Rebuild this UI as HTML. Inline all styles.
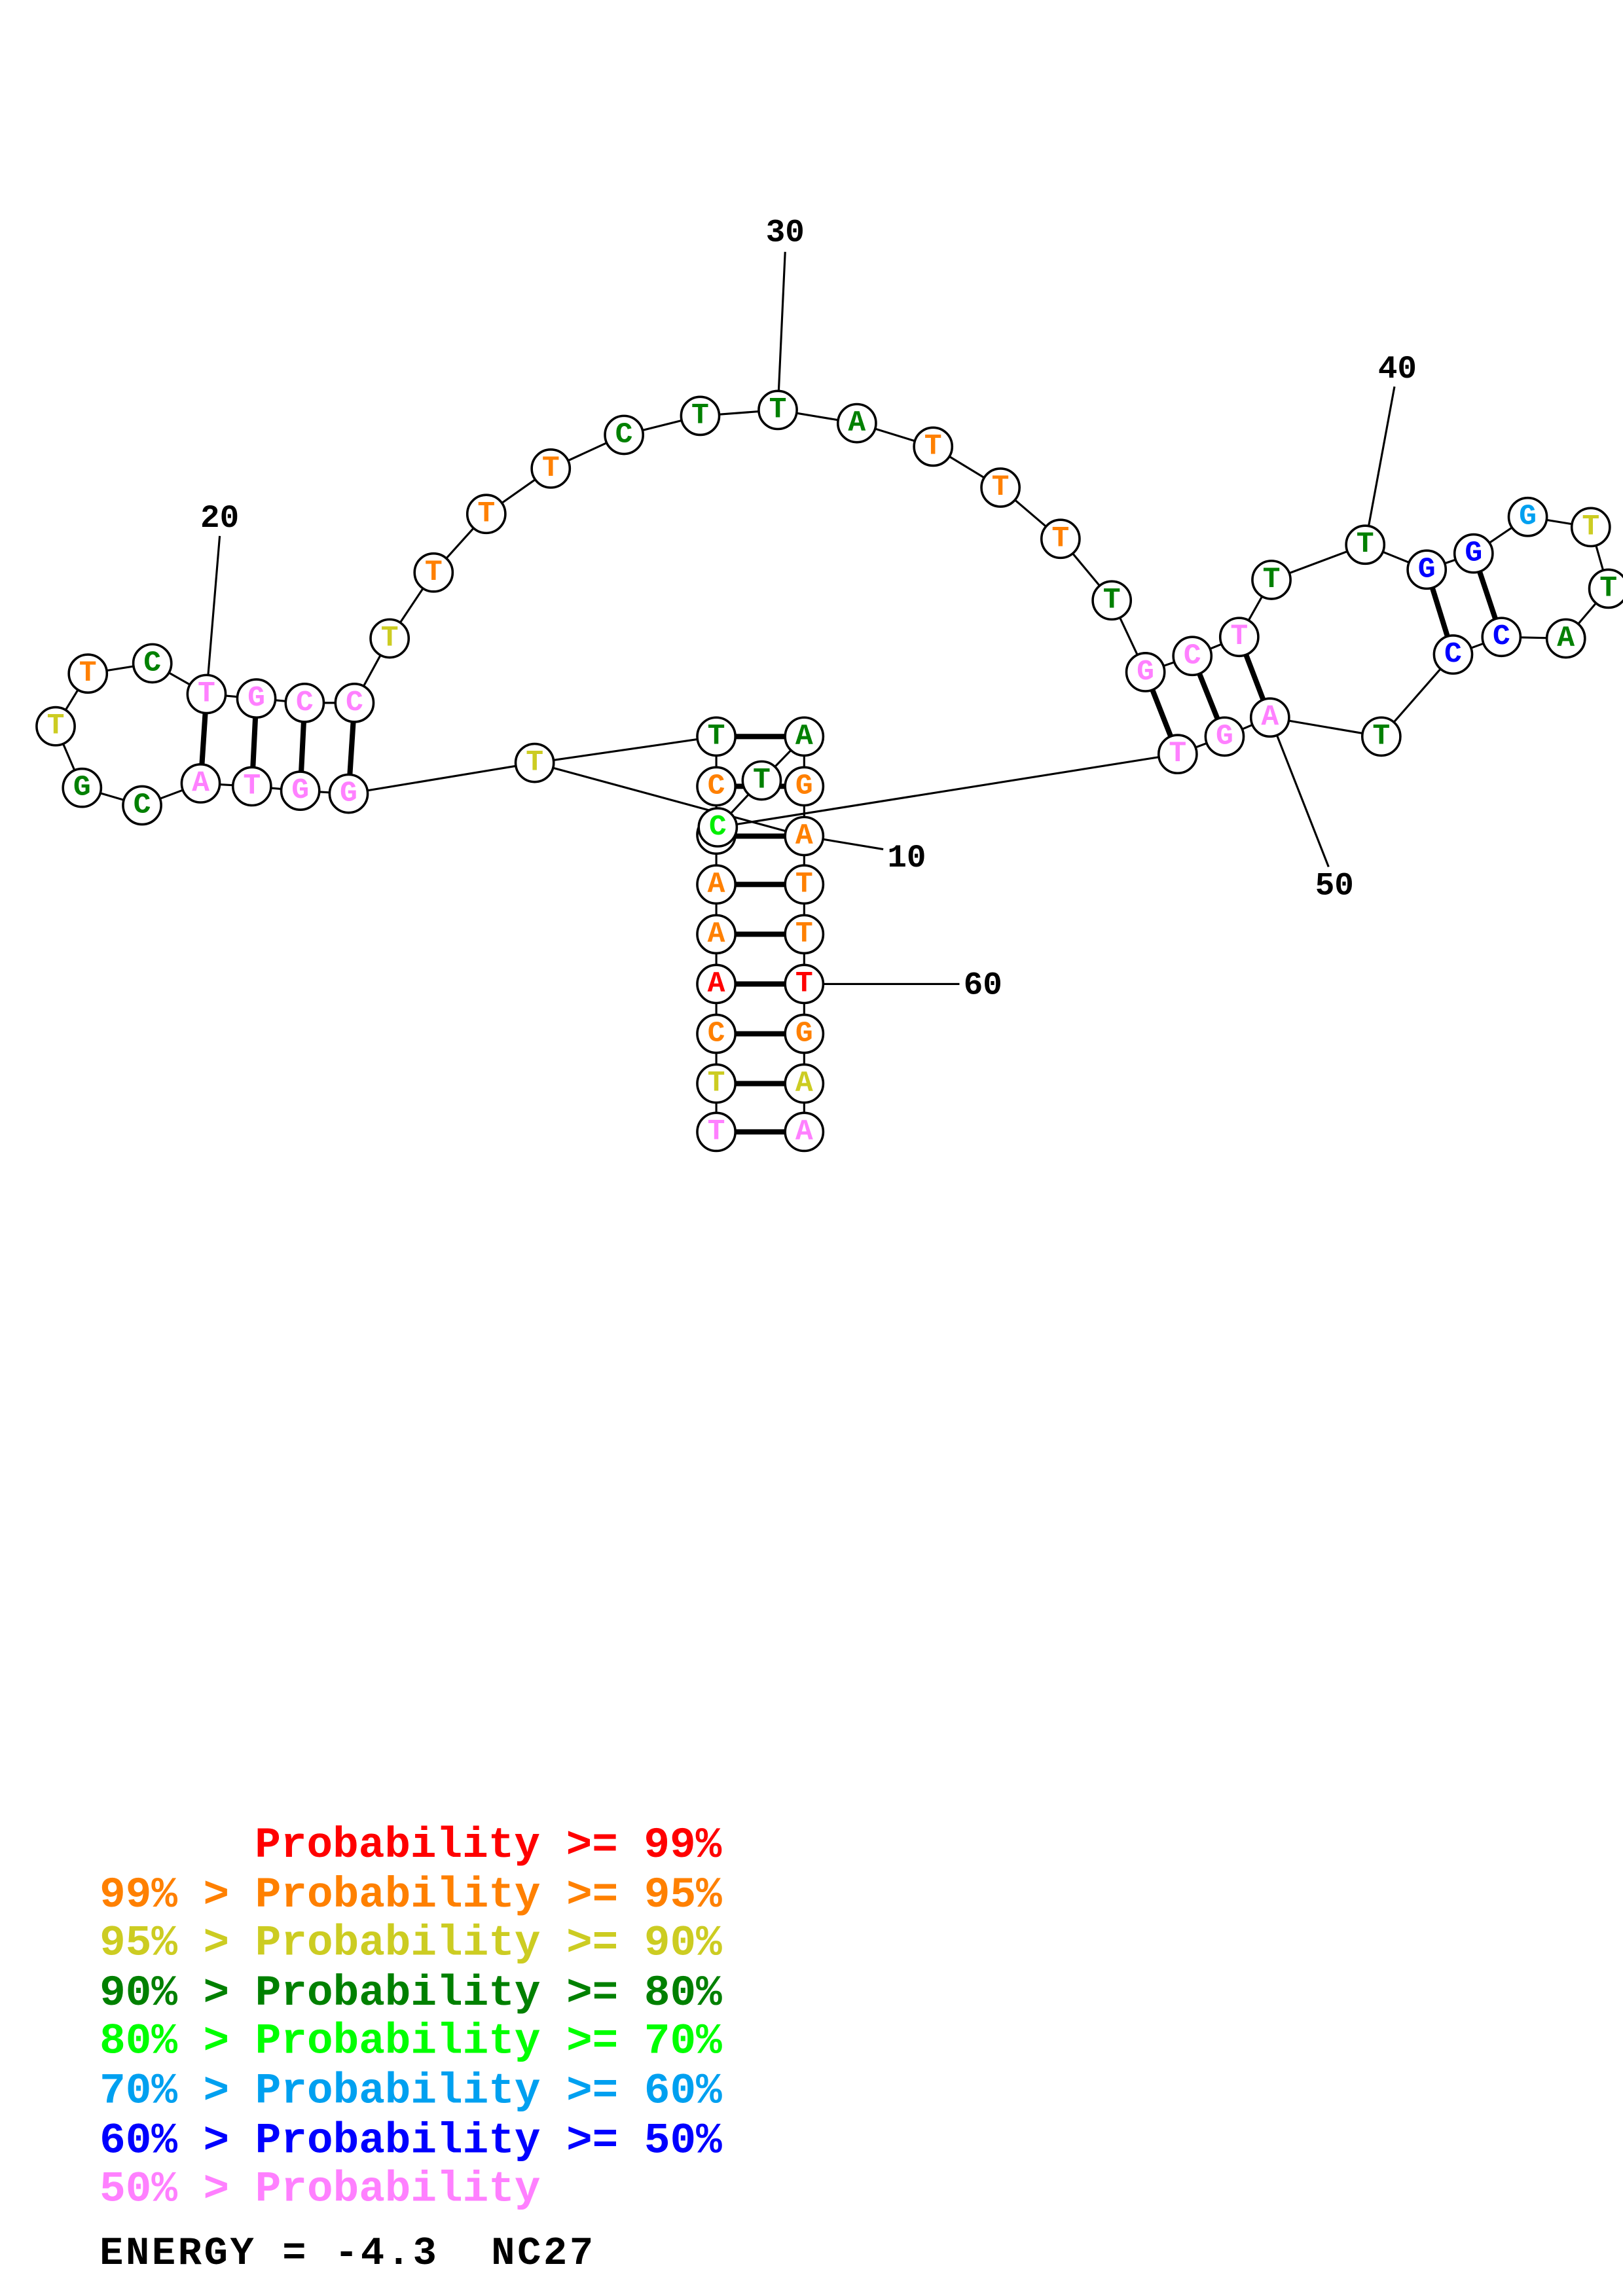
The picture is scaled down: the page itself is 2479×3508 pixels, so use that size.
<!DOCTYPE html>
<html><head><meta charset="utf-8"><style>
html,body{margin:0;padding:0;background:#fff}
svg{display:block}
.n{font-family:"Liberation Mono",monospace;font-weight:bold;font-size:20px;text-anchor:middle;dominant-baseline:central}
.l{font-family:"Liberation Mono",monospace;font-weight:bold;font-size:22px;text-anchor:middle;dominant-baseline:central;fill:#000}
.g{font-family:"Liberation Mono",monospace;font-weight:bold;font-size:29.5px;white-space:pre}
</style></head><body>
<svg width="2479" height="3508" viewBox="0 0 1108 1568" preserveAspectRatio="none" xmlns="http://www.w3.org/2000/svg">
<g stroke="#000" stroke-width="1.4" fill="none">
<polyline points="238,542 205,540 172,537 137,535 97,550 56,538 38,496 60,460 104,453 141,474 175,477 208,480 242,480 266,436 296,391 332,351 376,320 426,297 478,284 531,280 585,289 637,305 683,333 724,368 759,410 782,459 814,448 846,435 868,396 932,372 974,389 1006,378 1043,353 1086,360 1098,402 1069,436 1025,435 992,447 943,503 867,490 836,503 804,515 490,565 520,533 549,503 549,537 549,571 549,604 549,638 549,672 549,706 549,740 549,773"/>
<polyline points="489,773 489,740 489,706 489,672 489,638 489,604 489,570 489,537 489,503 365,521 238,542"/>
<line x1="365" y1="521" x2="549" y2="571"/>
<line x1="141" y1="474" x2="150" y2="366"/>
<line x1="531" y1="280" x2="536" y2="172"/>
<line x1="932" y1="372" x2="952" y2="264"/>
<line x1="867" y1="490" x2="907" y2="592"/>
<line x1="549" y1="571" x2="603" y2="580"/>
<line x1="549" y1="672" x2="655" y2="672"/>
</g>
<g stroke="#000" stroke-width="3.6">
<line x1="489" y1="503" x2="549" y2="503"/><line x1="489" y1="537" x2="549" y2="537"/>
<line x1="489" y1="571" x2="549" y2="571"/><line x1="489" y1="604" x2="549" y2="604"/>
<line x1="489" y1="638" x2="549" y2="638"/><line x1="489" y1="672" x2="549" y2="672"/>
<line x1="489" y1="706" x2="549" y2="706"/><line x1="489" y1="740" x2="549" y2="740"/>
<line x1="489" y1="773" x2="549" y2="773"/>
<line x1="238" y1="542" x2="242" y2="480"/><line x1="205" y1="540" x2="208" y2="480"/>
<line x1="172" y1="537" x2="175" y2="477"/><line x1="137" y1="535" x2="141" y2="474"/>
<line x1="782" y1="459" x2="804" y2="515"/><line x1="814" y1="448" x2="836" y2="503"/>
<line x1="846" y1="435" x2="867" y2="490"/><line x1="974" y1="389" x2="992" y2="447"/>
<line x1="1006" y1="378" x2="1025" y2="435"/>
</g>
<g stroke="#000" stroke-width="1.6" fill="#fff">
<circle cx="489" cy="570" r="13"/>
<circle cx="489" cy="503" r="13"/><circle cx="489" cy="537" r="13"/><circle cx="489" cy="604" r="13"/><circle cx="489" cy="638" r="13"/><circle cx="489" cy="672" r="13"/><circle cx="489" cy="706" r="13"/><circle cx="489" cy="740" r="13"/><circle cx="489" cy="773" r="13"/>
<circle cx="549" cy="503" r="13"/><circle cx="549" cy="537" r="13"/><circle cx="549" cy="571" r="13"/><circle cx="549" cy="604" r="13"/><circle cx="549" cy="638" r="13"/><circle cx="549" cy="672" r="13"/><circle cx="549" cy="706" r="13"/><circle cx="549" cy="740" r="13"/><circle cx="549" cy="773" r="13"/>
<circle cx="520" cy="533" r="13"/><circle cx="490" cy="565" r="13"/>
<circle cx="365" cy="521" r="13"/>
<circle cx="238" cy="542" r="13"/><circle cx="205" cy="540" r="13"/><circle cx="172" cy="537" r="13"/><circle cx="137" cy="535" r="13"/><circle cx="97" cy="550" r="13"/><circle cx="56" cy="538" r="13"/><circle cx="38" cy="496" r="13"/><circle cx="60" cy="460" r="13"/><circle cx="104" cy="453" r="13"/><circle cx="141" cy="474" r="13"/><circle cx="175" cy="477" r="13"/><circle cx="208" cy="480" r="13"/><circle cx="242" cy="480" r="13"/>
<circle cx="266" cy="436" r="13"/><circle cx="296" cy="391" r="13"/><circle cx="332" cy="351" r="13"/><circle cx="376" cy="320" r="13"/><circle cx="426" cy="297" r="13"/><circle cx="478" cy="284" r="13"/><circle cx="531" cy="280" r="13"/><circle cx="585" cy="289" r="13"/><circle cx="637" cy="305" r="13"/><circle cx="683" cy="333" r="13"/><circle cx="724" cy="368" r="13"/><circle cx="759" cy="410" r="13"/>
<circle cx="782" cy="459" r="13"/><circle cx="814" cy="448" r="13"/><circle cx="846" cy="435" r="13"/><circle cx="868" cy="396" r="13"/><circle cx="932" cy="372" r="13"/><circle cx="974" cy="389" r="13"/><circle cx="1006" cy="378" r="13"/><circle cx="1043" cy="353" r="13"/><circle cx="1086" cy="360" r="13"/><circle cx="1098" cy="402" r="13"/><circle cx="1069" cy="436" r="13"/><circle cx="1025" cy="435" r="13"/><circle cx="992" cy="447" r="13"/><circle cx="943" cy="503" r="13"/><circle cx="867" cy="490" r="13"/><circle cx="836" cy="503" r="13"/><circle cx="804" cy="515" r="13"/>
</g>
<g class="n">
<text x="489" y="503" fill="#008000">T</text><text x="489" y="537" fill="#ff8000">C</text><text x="489" y="604" fill="#ff8000">A</text><text x="489" y="638" fill="#ff8000">A</text><text x="489" y="672" fill="#ff0000">A</text><text x="489" y="706" fill="#ff8000">C</text><text x="489" y="740" fill="#cccc22">T</text><text x="489" y="773" fill="#ff80ff">T</text>
<text x="549" y="503" fill="#008000">A</text><text x="549" y="537" fill="#ff8000">G</text><text x="549" y="571" fill="#ff8000">A</text><text x="549" y="604" fill="#ff8000">T</text><text x="549" y="638" fill="#ff8000">T</text><text x="549" y="672" fill="#ff0000">T</text><text x="549" y="706" fill="#ff8000">G</text><text x="549" y="740" fill="#cccc22">A</text><text x="549" y="773" fill="#ff80ff">A</text>
<text x="520" y="533" fill="#008000">T</text><text x="490" y="565" fill="#00ee00">C</text>
<text x="365" y="521" fill="#cccc22">T</text>
<text x="238" y="542" fill="#ff80ff">G</text><text x="205" y="540" fill="#ff80ff">G</text><text x="172" y="537" fill="#ff80ff">T</text><text x="137" y="535" fill="#ff80ff">A</text><text x="97" y="550" fill="#008000">C</text><text x="56" y="538" fill="#008000">G</text><text x="38" y="496" fill="#cccc22">T</text><text x="60" y="460" fill="#ff8000">T</text><text x="104" y="453" fill="#008000">C</text><text x="141" y="474" fill="#ff80ff">T</text><text x="175" y="477" fill="#ff80ff">G</text><text x="208" y="480" fill="#ff80ff">C</text><text x="242" y="480" fill="#ff80ff">C</text>
<text x="266" y="436" fill="#cccc22">T</text><text x="296" y="391" fill="#ff8000">T</text><text x="332" y="351" fill="#ff8000">T</text><text x="376" y="320" fill="#ff8000">T</text><text x="426" y="297" fill="#008000">C</text><text x="478" y="284" fill="#008000">T</text><text x="531" y="280" fill="#008000">T</text><text x="585" y="289" fill="#008000">A</text><text x="637" y="305" fill="#ff8000">T</text><text x="683" y="333" fill="#ff8000">T</text><text x="724" y="368" fill="#ff8000">T</text><text x="759" y="410" fill="#008000">T</text>
<text x="782" y="459" fill="#ff80ff">G</text><text x="814" y="448" fill="#ff80ff">C</text><text x="846" y="435" fill="#ff80ff">T</text><text x="868" y="396" fill="#008000">T</text><text x="932" y="372" fill="#008000">T</text><text x="974" y="389" fill="#0000ff">G</text><text x="1006" y="378" fill="#0000ff">G</text><text x="1043" y="353" fill="#00a0f0">G</text><text x="1086" y="360" fill="#cccc22">T</text><text x="1098" y="402" fill="#008000">T</text><text x="1069" y="436" fill="#008000">A</text><text x="1025" y="435" fill="#0000ff">C</text><text x="992" y="447" fill="#0000ff">C</text><text x="943" y="503" fill="#008000">T</text><text x="867" y="490" fill="#ff80ff">A</text><text x="836" y="503" fill="#ff80ff">G</text><text x="804" y="515" fill="#ff80ff">T</text>
</g>
<g class="l">
<text x="150" y="354">20</text><text x="536" y="159">30</text><text x="954" y="252">40</text><text x="911" y="605">50</text><text x="619" y="586">10</text><text x="671" y="673">60</text>
</g>
<g class="g">
<text x="174" y="1268" fill="#ff0000">Probability &gt;= 99%</text>
<text x="68" y="1302" fill="#ff8000">99% &gt; Probability &gt;= 95%</text>
<text x="68" y="1335" fill="#cccc22">95% &gt; Probability &gt;= 90%</text>
<text x="68" y="1369" fill="#008000">90% &gt; Probability &gt;= 80%</text>
<text x="68" y="1402" fill="#00ff00">80% &gt; Probability &gt;= 70%</text>
<text x="68" y="1436" fill="#00a0f0">70% &gt; Probability &gt;= 60%</text>
<text x="68" y="1470" fill="#0000ff">60% &gt; Probability &gt;= 50%</text>
<text x="68" y="1503" fill="#ff80ff">50% &gt; Probability</text>
<text x="68" y="1546" fill="#000" style="font-size:27px" textLength="337" lengthAdjust="spacing">ENERGY = -4.3&#160;&#160;NC27</text>
</g>
</svg>
</body></html>
